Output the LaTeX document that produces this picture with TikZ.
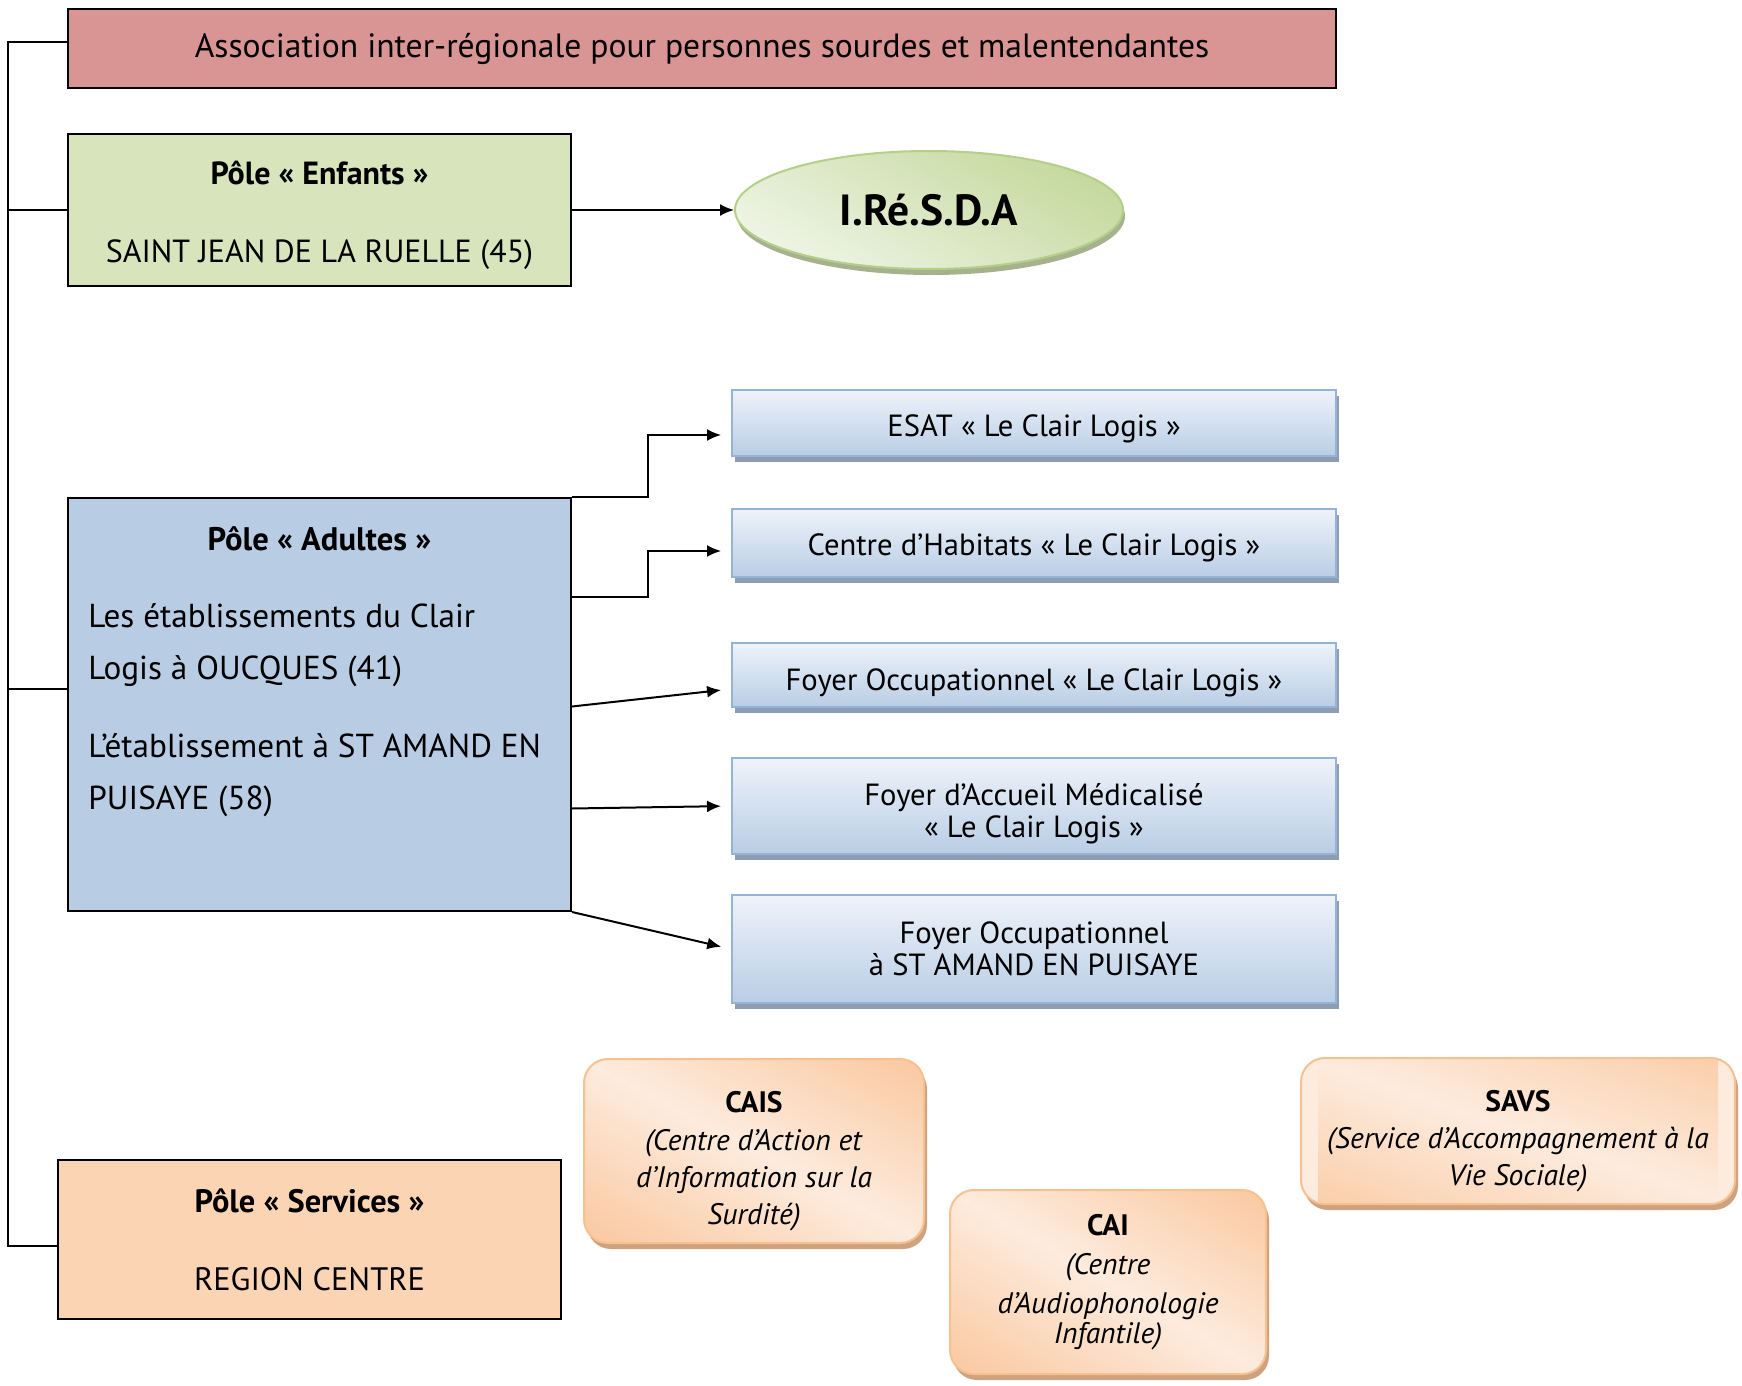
\documentclass[tikz,border=0pt]{standalone}
\usepackage{fontspec}
\setmainfont{PT Sans}
\usetikzlibrary{arrows.meta,%
                shapes.geometric,%
                shadows,%
                positioning}

\definecolor{assoc}{HTML}{D99594}
\definecolor{enfant}{HTML}{D7E4BC}
\definecolor{adulte}{HTML}{B8CCE4}
\definecolor{serv}{HTML}{FBD4B4}
\definecolor{etabtop}{HTML}{EEF3FA}
\definecolor{etabbot}{HTML}{B9CDE5}
\definecolor{etabline}{HTML}{95B3D7}
\definecolor{etabshade}{HTML}{8E9DB3}
\definecolor{orlight}{HTML}{FDEBDD}
\definecolor{ordark}{HTML}{F9BF8F}
\definecolor{orline}{HTML}{F8C08F}
\definecolor{orshade}{HTML}{CFA27F}
\definecolor{vlight}{HTML}{EEF4E4}
\definecolor{vdark}{HTML}{C5D99E}
\definecolor{vline}{HTML}{B3CF88}
\definecolor{vshade}{HTML}{A6B28E}

\tikzset{
  pole/.style={draw=black, line width=1pt, rectangle, inner sep=0pt,
    align=center},
  etab/.style={draw=etabline, line width=1pt, rectangle, inner sep=2pt,
    top color=etabtop, bottom color=etabbot, align=center,
    font=\fontsize{15.3}{16}\selectfont, minimum width=302pt,
    drop shadow={shadow xshift=1.5pt, shadow yshift=-3pt,
      fill=etabshade, opacity=1}},
  service/.style={draw=orline, line width=1pt, rounded corners=12pt,
    fill=orlight, align=center, inner sep=2pt,
    font=\fontsize{14.8}{18.6}\selectfont,
    path picture={\shade[top color=ordark, bottom color=ordark,
        middle color=orlight, shading angle=#1]
      ([shift={(-100pt,-100pt)}]path picture bounding box.center)
      rectangle ([shift={(100pt,100pt)}]path picture bounding box.center);},
    drop shadow={shadow xshift=1.5pt, shadow yshift=-3pt,
      fill=orshade, opacity=1}},
  service/.default=-28,
  lien/.style={-{Latex[length=7pt,width=6pt]}, line width=1pt,
    shorten >=5pt},
  tige/.style={line width=1pt}
}

\begin{document}
\begin{tikzpicture}[x=0.5pt, y=-0.5pt]
      \useasboundingbox (0,0) rectangle (1742,1386);

      % poles
      \node[pole, fill=assoc, minimum width=634pt, minimum height=39.5pt,
        font=\fontsize{16.8}{19}\selectfont] (assoc) at (702,48.5)
        {Association inter-régionale pour personnes sourdes et malentendantes};
      \node[pole, fill=enfant, minimum width=251.5pt, minimum height=76pt,
        font=\fontsize{16}{19}\selectfont] (enfants) at (319.5,210)
        {\rule{0pt}{17.5pt}\textbf{Pôle «~Enfants~»}\\[20pt]SAINT JEAN DE LA RUELLE (45)};
      \node[pole, fill=adulte, minimum width=251.5pt, minimum height=206.5pt]
        (adultes) at (319.5,704.5) {};
      \node[font=\fontsize{16.3}{19}\selectfont\bfseries] (adultestitre)
        at (319.5,539) {Pôle «~Adultes~»};
      \node[anchor=west, align=left, inner sep=0pt,
        font=\fontsize{16.6}{26}\selectfont] (adultescorps) at (88,710)
        {Les établissements du Clair\\Logis à OUCQUES (41)\\[13pt]
         L’établissement à ST AMAND EN\\PUISAYE (58)};
      \node[pole, fill=serv, minimum width=251.5pt, minimum height=79.5pt,
        font=\fontsize{16.2}{19}\selectfont] (services) at (309.5,1239.5)
        {\textbf{Pôle «~Services~»}\\[20pt]REGION CENTRE};

      \node[ellipse, draw=vline, line width=1pt, inner sep=0pt,
        minimum width=194pt, minimum height=59pt,
        left color=vlight, right color=vdark, shading angle=150,
        drop shadow={shadow xshift=1pt, shadow yshift=-3pt,
          fill=vshade, opacity=1},
        font=\fontsize{21.8}{26}\selectfont\bfseries] (iresda) at (929,210)
        {I.Ré.S.D.A};

      % etablissements adultes
      \node[etab, minimum height=33pt, text height=17pt] (esat) at (1034,423)
        {ESAT «~Le Clair Logis~»};
      \node[etab, minimum height=34pt, text height=15.5pt] (habitat) at (1034,543)
        {Centre d’Habitats «~Le Clair Logis~»};
      \node[etab, minimum height=32pt, text height=18.5pt] (foyer) at (1034,675)
        {Foyer Occupationnel «~Le Clair Logis~»};
      \node[etab, minimum height=48pt] (fam) at (1034,806)
        {\rule{0pt}{19pt}Foyer d’Accueil Médicalisé\\«~Le Clair Logis~»};
      \node[etab, minimum height=54pt] (amand) at (1034,949)
        {Foyer Occupationnel\\à ST AMAND EN PUISAYE};

      % services
      \node[service, minimum width=170pt, minimum height=92pt] (cais)
        at (754,1151)
        {\rule{0pt}{21pt}\textbf{CAIS}\\\textit{(Centre d’Action et}\\
         \textit{d’Information sur la}\\\textit{Surdité)}};
      \node[service=-30, minimum width=158pt, minimum height=92pt] (cai)
        at (1108,1282)
        {\textbf{CAI}\\[1pt]\textit{(Centre}\\[1pt]
         \textit{d’Audiophonologie}\\[-4pt]\textit{Infantile)}};
      \node[service=-19, minimum width=217pt, minimum height=73pt] (savs)
        at (1518,1131)
        {\rule{0pt}{21pt}\textbf{SAVS}\\\textit{(Service d’Accompagnement à la}\\
         \textit{Vie Sociale)}};

      % liaisons
      \coordinate (tronc) at (8,0);
      \draw[tige] ([yshift=3pt]assoc.west) -- ([yshift=3pt]assoc.west -| tronc)
        |- ([yshift=-3pt]services.west);
      \draw[tige] (enfants.west) -- (enfants.west -| tronc);
      \draw[tige] ([yshift=8pt]adultes.west) -- ([yshift=8pt]adultes.west -| tronc);

      \draw[lien, shorten >=0pt] (enfants.east) -- (iresda.west);
      \draw[lien] (adultes.north east) -- ++(76,0)
        |- ([yshift=-6pt]esat.west);
      \draw[lien] ([yshift=-50pt]adultes.north east) -- ++(76,0)
        |- ([yshift=-4pt]habitat.west);
      \draw[lien] ([yshift=-1pt]adultes.east) -- ([yshift=-7pt]foyer.west);
      \draw[lien] ([yshift=-52pt]adultes.east) -- (fam.west);
      \draw[lien] (adultes.south east) -- (amand.west);
\end{tikzpicture}
\end{document}
